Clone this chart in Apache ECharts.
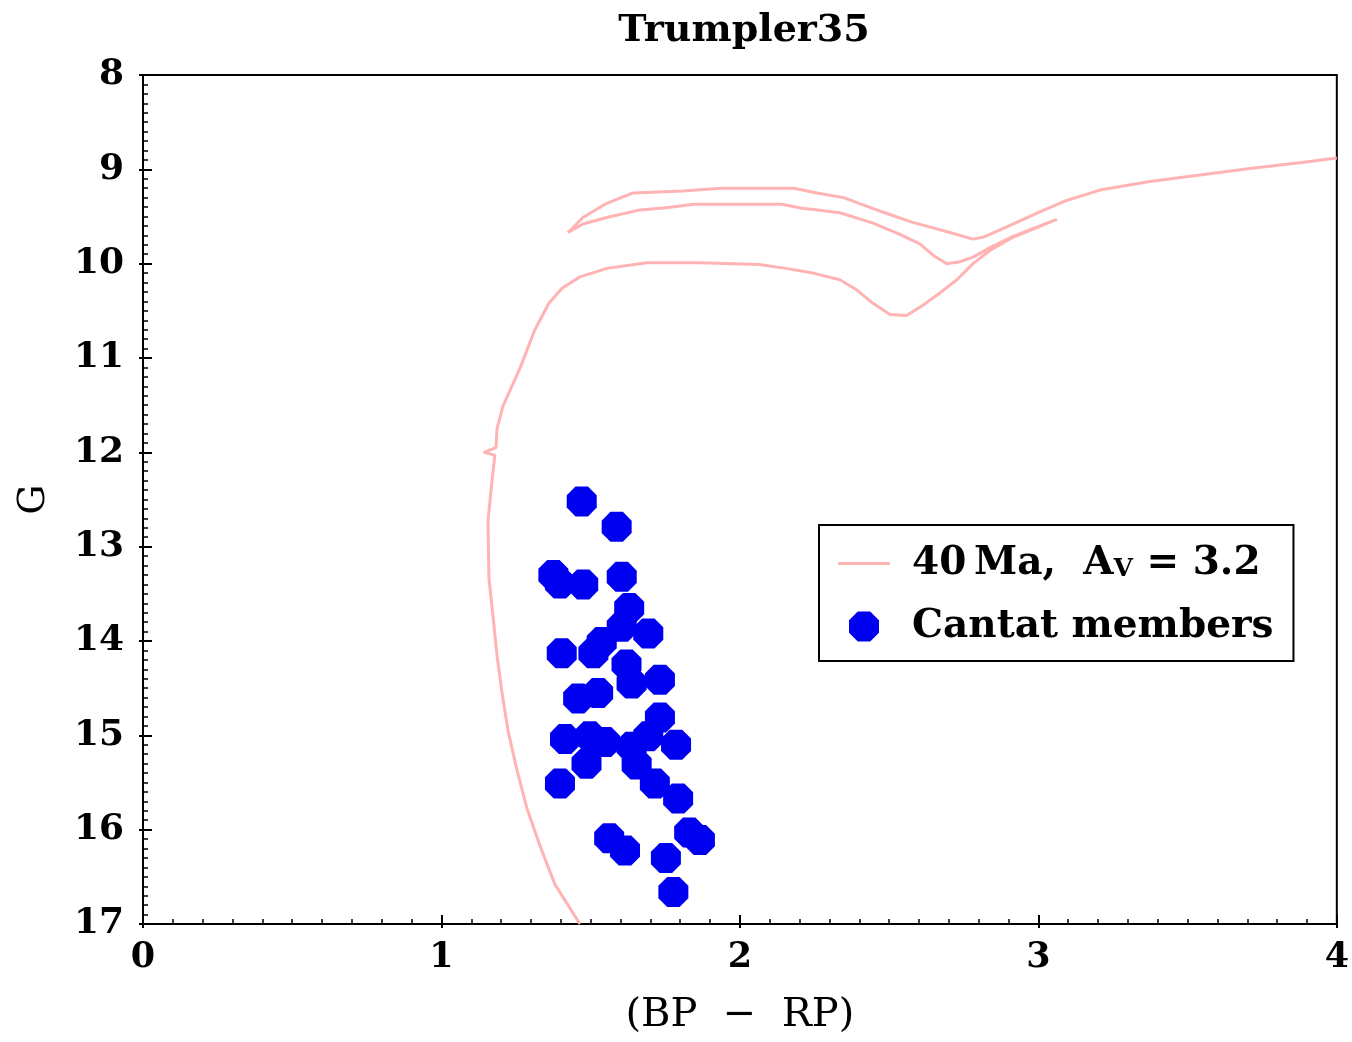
<!DOCTYPE html>
<html>
<head>
<meta charset="utf-8">
<script src="https://cdn.jsdelivr.net/npm/echarts@6/dist/echarts.min.js"></script>
<style>
html,body{margin:0;padding:0;background:#fff;}
#chart{width:1352px;height:1042px;}
</style>
</head>
<body>
<div id="chart"></div>
<script>
// Isochrone (40 Ma, Av = 3.2): colour (BP-RP) and G magnitude
const isoX = [1.464,1.380,1.330,1.286,1.253,1.223,1.203,1.186,1.173,1.159,1.156,1.169,1.179,1.142,1.183,1.186,1.206,1.263,1.313,1.360,
  1.404,1.464,1.554,1.688,1.866,2.064,2.154,2.245,2.335,2.392,2.446,2.503,2.559,2.613,2.670,2.727,2.781,2.838,2.915,3.062,
  2.915,2.838,2.781,2.737,2.693,2.647,2.603,2.536,2.446,2.335,2.204,2.141,1.846,1.745,1.665,1.554,1.474,1.424,
  1.474,1.554,1.642,1.809,1.936,2.181,2.258,2.348,2.399,2.476,2.576,2.704,2.781,2.814,2.894,3.005,3.095,3.206,3.374,3.541,3.709,3.876,4.0];
const isoG = [17.00,16.58,16.17,15.77,15.37,14.95,14.55,14.15,13.75,13.33,12.73,12.31,12.03,12.00,11.95,11.75,11.51,11.11,10.70,10.42,
  10.26,10.14,10.05,9.99,9.99,10.01,10.05,10.10,10.17,10.28,10.42,10.54,10.55,10.44,10.31,10.17,10.00,9.86,9.72,9.53,
  9.71,9.83,9.93,9.98,10.00,9.91,9.79,9.69,9.57,9.46,9.41,9.37,9.37,9.41,9.43,9.51,9.58,9.67,
  9.51,9.36,9.25,9.23,9.20,9.20,9.25,9.30,9.36,9.45,9.56,9.67,9.74,9.72,9.61,9.45,9.33,9.22,9.13,9.06,8.99,8.93,8.88];

// Cantat members
const memX = [1.470,1.587,1.375,1.397,1.475,1.604,1.629,1.604,1.693,1.537,1.509,1.403,1.620,1.637,1.732,1.525,1.458,1.732,
  1.414,1.497,1.548,1.486,1.637,1.693,1.786,1.654,1.715,1.397,1.793,1.562,1.615,1.830,1.866,1.752,1.777];
const memG = [12.52,12.79,13.30,13.39,13.40,13.32,13.65,13.85,13.92,14.01,14.13,14.13,14.25,14.45,14.41,14.55,14.61,14.81,
  15.04,15.01,15.07,15.30,15.12,15.01,15.10,15.31,15.51,15.51,15.67,16.09,16.22,16.03,16.11,16.30,16.66];

const xTicks = [0, 1, 2, 3, 4];
const yTicks = [8, 9, 10, 11, 12, 13, 14, 15, 16, 17];

const seriesNames = ['iso', 'mem'];
const legendLabels = { iso: '40\u2009Ma,  A{sub|V} = 3.2', mem: 'Cantat members' };

const FONT = 'DejaVu Serif';
const octagon = 'path://M29.3,0L70.7,0L100,29.3L100,70.7L70.7,100L29.3,100L0,70.7L0,29.3Z';
const lineIcon = 'path://M0,0L52,0L52,3L0,3Z';

const chart = echarts.init(document.getElementById('chart'), null, { renderer: 'canvas' });

const baseX = {
  type: 'value', min: xTicks[0], max: xTicks[xTicks.length - 1], interval: 1,
  splitLine: { show: false }
};
const baseY = {
  type: 'value', min: yTicks[0], max: yTicks[yTicks.length - 1], interval: 1, inverse: true,
  splitLine: { show: false }
};

chart.setOption({
  animation: false,
  backgroundColor: '#fff',
  title: {
    text: 'Trumpler35', left: 739, top: 7, textAlign: 'center',
    textStyle: { fontFamily: FONT, fontWeight: 'bold', fontSize: 38, color: '#000' }
  },
  grid: { left: 143, right: 15, top: 75, bottom: 118, show: true, borderColor: '#000', borderWidth: 2, backgroundColor: 'transparent' },
  xAxis: [
    Object.assign({}, baseX, {
      position: 'bottom',
      name: '(BP  \u2212  RP)', nameLocation: 'middle', nameGap: 72,
      nameTextStyle: { fontFamily: FONT, fontSize: 40, color: '#000' },
      axisLine: { lineStyle: { color: '#000', width: 2 } },
      axisTick: { inside: true, length: 9, lineStyle: { color: '#000', width: 2 } },
      minorTick: { show: true, splitNumber: 10, length: 5, lineStyle: { color: '#000', width: 1.5 } },
      axisLabel: { margin: 16, fontFamily: FONT, fontWeight: 'bold', fontSize: 35, color: '#000' }
    }),
    Object.assign({}, baseX, {
      position: 'bottom',
      axisLine: { show: false },
      axisTick: { inside: false, length: 4, lineStyle: { color: '#000', width: 2 } },
      axisLabel: { show: false }
    })
  ],
  yAxis: [
    Object.assign({}, baseY, {
      position: 'left',
      name: 'G', nameLocation: 'middle', nameGap: 90,
      nameTextStyle: { fontFamily: FONT, fontSize: 38, color: '#000' },
      axisLine: { lineStyle: { color: '#000', width: 2 } },
      axisTick: { inside: true, length: 9, lineStyle: { color: '#000', width: 2 } },
      minorTick: { show: true, splitNumber: 10, length: 5, lineStyle: { color: '#000', width: 1.5 } },
      axisLabel: { margin: 19, fontFamily: FONT, fontWeight: 'bold', fontSize: 36, color: '#000' }
    }),
    Object.assign({}, baseY, {
      position: 'left',
      axisLine: { show: false },
      axisTick: { inside: false, length: 4, lineStyle: { color: '#000', width: 2 } },
      axisLabel: { show: false }
    })
  ],
  legend: {
    orient: 'vertical', left: 819, top: 525,
    borderColor: '#000', borderWidth: 2, borderRadius: 0,
    padding: [19, 20, 15, 19],
    itemWidth: 52, itemHeight: 30, itemGap: 24,
    data: [
      { name: seriesNames[0], icon: lineIcon, itemStyle: { color: '#ffb3b3' } },
      { name: seriesNames[1], icon: octagon }
    ],
    formatter: function (n) { return legendLabels[n]; },
    textStyle: {
      fontFamily: FONT, fontWeight: 'bold', fontSize: 39, color: '#000', padding: [0, 0, 0, 17],
      rich: { sub: { fontFamily: FONT, fontWeight: 'bold', fontSize: 25, color: '#000', padding: [12, 0, 0, 0] } }
    }
  },
  series: [
    {
      name: seriesNames[0], type: 'line', xAxisIndex: 0, yAxisIndex: 0,
      data: isoX.map((x, i) => [x, isoG[i]]),
      symbol: 'none', showSymbol: false, smooth: false,
      lineStyle: { color: '#ffb3b3', width: 3 }, itemStyle: { color: '#ffb3b3' },
      z: 2
    },
    {
      name: seriesNames[1], type: 'scatter', xAxisIndex: 0, yAxisIndex: 0,
      data: memX.map((x, i) => [x, memG[i]]),
      symbol: octagon, symbolSize: 30,
      itemStyle: { color: '#0000f0', opacity: 1 },
      z: 3
    }
  ]
});
</script>
</body>
</html>
